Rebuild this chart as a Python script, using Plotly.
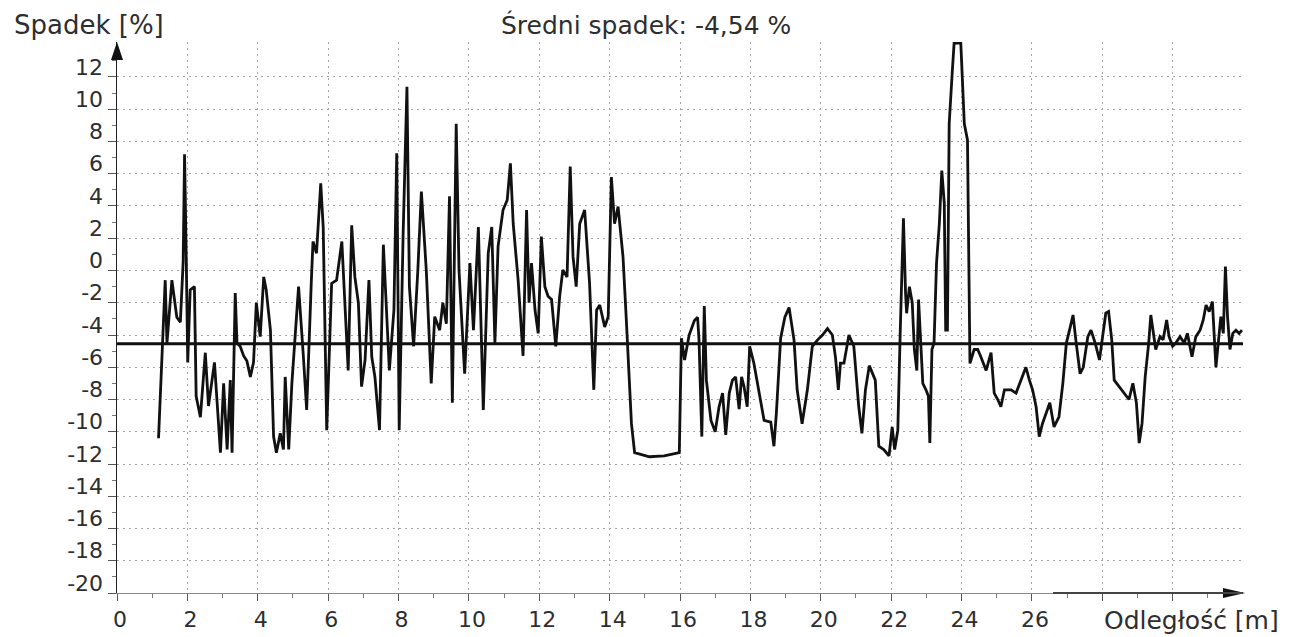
import plotly.graph_objects as go

# ---------------- data ----------------
mean_slope = -4.54
title_text = "Średni spadek: -4,54 %"
y_title = "Spadek [%]"
x_title = "Odległość [m]"

dist_a = [1.18, 1.37, 1.42, 1.56, 1.70, 1.80, 1.88, 1.92, 1.97, 2.01,
          2.08, 2.20, 2.25, 2.37, 2.51, 2.60, 2.77, 2.94, 3.03, 3.13,
          3.22, 3.27, 3.36, 3.41, 3.50, 3.60, 3.69, 3.79, 3.88, 3.96,
          4.07, 4.17, 4.24, 4.36, 4.45, 4.53, 4.64, 4.73, 4.78, 4.88,
          4.97, 5.07, 5.16]
slope_a = [-10.4, -0.6, -4.5, -0.6, -2.9, -3.2, 0.5, 7.2, 0.5, -5.7,
           -1.2, -1.0, -7.8, -9.1, -5.1, -8.4, -5.7, -11.3, -7.0, -11.1,
           -6.8, -11.3, -1.4, -4.5, -4.7, -5.3, -5.6, -6.6, -5.7, -2.0,
           -4.1, -0.4, -1.2, -3.7, -10.3, -11.3, -10.1, -11.1, -6.6, -11.1,
           -7.0, -3.7, -1.0]

dist_b = [5.29, 5.39, 5.52, 5.57, 5.67, 5.79, 5.86, 5.96, 6.10, 6.24,
          6.39, 6.48, 6.57, 6.67, 6.76, 6.86, 6.95, 7.05, 7.16, 7.24,
          7.33, 7.46, 7.57, 7.64, 7.74, 7.87, 7.95, 8.02, 8.13, 8.24,
          8.31, 8.43, 8.55, 8.65, 8.79, 8.93, 9.03, 9.17, 9.26, 9.36,
          9.45, 9.53, 9.64, 9.72, 9.88, 10.03, 10.13, 10.27, 10.41, 10.55,
          10.65]
slope_b = [-5.1, -8.65, -0.8, 1.8, 1.07, 5.4, 2.7, -9.9, -0.8, -0.6,
           1.8, -2.45, -6.2, 2.8, -0.4, -2.0, -7.2, -5.55, -0.6, -5.35,
           -6.6, -9.9, 1.6, -1.6, -6.2, -2.45, 7.27, -9.9, 2.1, 11.4,
           -1.0, -4.7, 0.03, 4.9, 0.0, -7.0, -2.86, -3.7, -2.0, -3.3,
           4.6, -8.2, 9.1, 0.0, -6.4, 0.46, -3.7, 2.7, -8.65, 1.07,
           2.7]

dist_c = [10.74, 10.83, 10.97, 11.09, 11.18, 11.26, 11.40, 11.54, 11.64, 11.71,
          11.78, 11.88, 11.97, 12.06, 12.16, 12.25, 12.35, 12.47, 12.58, 12.67,
          12.79, 12.88, 12.96, 13.05, 13.15, 13.29, 13.43, 13.55, 13.63, 13.72,
          13.86, 13.96, 14.05, 14.14, 14.24, 14.38, 14.47, 14.62, 14.71, 15.13,
          15.55, 15.98, 16.04]
slope_c = [-4.5, 1.5, 3.75, 4.37, 6.65, 2.9, -0.6, -5.3, 3.75, -2.0,
           0.46, -2.45, -3.9, 2.1, -1.0, -1.6, -1.8, -4.7, -1.6, 0.03,
           -0.4, 6.44, 0.86, -1.0, 2.9, 3.75, -0.8, -7.4, -2.45, -2.14,
           -3.5, -2.86, 5.8, 2.9, 3.96, 0.86, -2.86, -9.5, -11.3, -11.55,
           -11.5, -11.3, -4.2]

dist_d = [16.13, 16.26, 16.41, 16.50, 16.54, 16.62, 16.69, 16.75, 16.88, 17.00,
          17.11, 17.21, 17.30, 17.40, 17.49, 17.58, 17.68, 17.75, 17.82, 17.91,
          17.98, 18.10, 18.24, 18.39, 18.58, 18.67, 18.74, 18.86, 18.98, 19.10,
          19.24, 19.33, 19.47, 19.62, 19.76, 19.91, 20.05, 20.19, 20.33, 20.42,
          20.50, 20.56, 20.66, 20.80, 20.94, 21.08, 21.17, 21.27, 21.38, 21.55,
          21.65, 21.79, 21.94]
slope_d = [-5.55, -4.0, -3.1, -2.9, -4.3, -10.3, -2.2, -6.8, -9.3, -10.0,
           -8.45, -7.6, -10.2, -7.6, -6.8, -6.6, -8.6, -6.6, -7.2, -8.45,
           -4.7, -5.75, -7.6, -9.3, -9.4, -10.9, -8.8, -4.2, -2.9, -2.3,
           -4.3, -7.4, -9.5, -7.4, -4.7, -4.3, -4.0, -3.6, -4.0, -5.4,
           -7.4, -5.75, -5.75, -4.0, -4.7, -8.45, -10.1, -7.4, -5.9, -6.8,
           -10.9, -11.1, -11.5]

dist_e = [22.03, 22.10, 22.19, 22.26, 22.32, 22.35, 22.41, 22.44, 22.52, 22.60,
          22.66, 22.73, 22.78, 22.85, 22.90, 22.99, 23.06, 23.10, 23.16, 23.22,
          23.29, 23.37, 23.44, 23.51, 23.55, 23.60, 23.65, 23.74, 23.79, 23.98,
          24.08, 24.17, 24.20, 24.24, 24.36, 24.46, 24.55, 24.70, 24.84, 24.93,
          25.03, 25.12, 25.22, 25.41, 25.55, 25.69, 25.83, 25.93, 26.02, 26.12,
          26.21, 26.30, 26.40, 26.51, 26.63, 26.77, 26.88]
slope_e = [-9.7, -11.1, -9.9, -3.7, 0.46, 3.24, -1.4, -2.65, -1.0, -2.0,
           -4.9, -6.2, -1.8, -4.9, -7.0, -7.4, -7.8, -10.7, -4.9, -4.5,
           0.46, 2.9, 6.2, 4.2, -3.7, -3.7, 9.1, 12.4, 14.1, 14.1,
           9.1, 8.1, 0.46, -5.76, -4.9, -4.9, -5.35, -6.2, -5.1, -7.6,
           -8.0, -8.45, -7.4, -7.4, -7.6, -6.8, -6.0, -6.8, -7.4, -8.45,
           -10.3, -9.5, -8.86, -8.2, -9.7, -9.07, -7.0]

dist_f = [26.98, 27.07, 27.17, 27.26, 27.37, 27.46, 27.59, 27.68, 27.80, 27.92,
          28.01, 28.10, 28.18, 28.27, 28.34, 28.48, 28.62, 28.76, 28.87, 28.97,
          29.05, 29.13, 29.22, 29.32, 29.38, 29.45, 29.52, 29.64, 29.73, 29.83,
          29.90, 30.00, 30.09, 30.21, 30.33, 30.42, 30.55, 30.66, 30.78, 30.87,
          30.95, 31.04, 31.13, 31.23, 31.30, 31.37, 31.44, 31.50, 31.56, 31.63,
          31.71, 31.80, 31.89, 31.97]
slope_f = [-4.5, -3.7, -2.76, -4.5, -6.4, -6.0, -4.1, -3.7, -4.5, -5.55,
           -4.1, -2.65, -2.55, -4.3, -6.8, -7.2, -7.6, -8.0, -7.0, -8.2,
           -10.7, -9.5, -6.6, -4.5, -2.76, -3.9, -4.9, -4.1, -4.3, -3.07,
           -4.1, -4.7, -4.5, -4.1, -4.5, -3.9, -5.35, -4.1, -3.7, -3.07,
           -2.14, -2.55, -1.93, -6.0, -4.5, -2.86, -3.9, 0.24, -2.86, -4.9,
           -3.9, -3.7, -3.9, -3.7]

x_tick_vals = [0, 2, 4, 6, 8, 10, 12, 14, 16, 18, 20, 22, 24, 26, 28, 30]
x_tick_text = ["0", "2", "4", "6", "8", "10", "12", "14", "16", "18",
               "20", "22", "24", "26", "", ""]
y_tick_vals = [-20, -18, -16, -14, -12, -10, -8, -6, -4, -2, 0, 2, 4, 6, 8, 10, 12]
y_tick_text = ["-20", "-18", "-16", "-14", "-12", "-10", "-8", "-6", "-4", "-2",
               "0", "2", "4", "6", "8", "10", "12"]
x_range = [0, 32]
y_range = [-20, 14.17]

# ---------------- assemble ----------------
distance = dist_a + dist_b + dist_c + dist_d + dist_e + dist_f
slope = slope_a + slope_b + slope_c + slope_d + slope_e + slope_f
assert len(distance) == len(slope)

FONT = "DejaVu Sans"
TXT = "#2e2e2e"
GRID = "#a4a4a4"
GRID_DASH = "2px,4px"

fig = go.Figure()
fig.add_trace(go.Scatter(x=distance, y=slope, mode="lines",
                         line=dict(color="#111111", width=2.8),
                         hoverinfo="skip", showlegend=False))
fig.add_trace(go.Scatter(x=x_range, y=[mean_slope, mean_slope], mode="lines",
                         line=dict(color="#111111", width=3),
                         hoverinfo="skip", showlegend=False))

fig.update_layout(
    width=1296, height=637,
    margin=dict(l=117, r=53, t=42, b=44, pad=0, autoexpand=False),
    paper_bgcolor="white", plot_bgcolor="white",
    font=dict(family=FONT, color=TXT, size=22),
    showlegend=False,
)

fig.update_xaxes(
    range=x_range, tickmode="array", tickvals=x_tick_vals, ticktext=x_tick_text,
    showgrid=True, gridcolor=GRID, griddash=GRID_DASH, gridwidth=1,
    ticks="outside", ticklen=7, tickcolor="#555555", tickwidth=1,
    showline=True, linecolor="#8a8a8a", linewidth=1, zeroline=False,
    tickfont=dict(family=FONT, size=22, color=TXT), ticklabelshift=3,
    minor=dict(tickmode="array", tickvals=[v + 1 for v in x_tick_vals],
               ticks="outside", ticklen=4, tickcolor="#777777", showgrid=False),
    automargin=False, fixedrange=True,
)
fig.update_yaxes(
    range=y_range, tickmode="array", tickvals=y_tick_vals, ticktext=y_tick_text,
    showgrid=True, gridcolor=GRID, griddash=GRID_DASH, gridwidth=1,
    ticks="outside", ticklen=8, tickcolor="#555555", tickwidth=1,
    showline=True, linecolor="#222222", linewidth=1.5, zeroline=False,
    tickfont=dict(family=FONT, size=22, color=TXT), ticklabelshift=-10,
    minor=dict(tickmode="array", tickvals=[v + 1 for v in y_tick_vals],
               ticks="outside", ticklen=4, tickcolor="#777777", showgrid=False),
    automargin=False, fixedrange=True,
)

PW, PH = 1296 - 117 - 53, 637 - 42 - 44

# axis arrows (pixel-sized triangles anchored to the axis ends)
fig.add_shape(type="path", xref="paper", yref="paper",
              xsizemode="pixel", ysizemode="pixel", xanchor=0, yanchor=1,
              path="M -6,-18 L 0,0 L 6,-18 Z",
              fillcolor="#111111", line=dict(width=0))
fig.add_shape(type="path", xref="paper", yref="paper",
              xsizemode="pixel", ysizemode="pixel", xanchor=1 + 2 / PW, yanchor=0,
              path="M -22,5 L 0,0 L -22,-5 Z",
              fillcolor="#111111", line=dict(width=0))
fig.add_shape(type="line", xref="paper", yref="paper",
              x0=(1053 - 117) / PW, x1=1, y0=0, y1=0,
              line=dict(color="#444444", width=2))

fig.add_annotation(text=title_text, xref="paper", yref="paper",
                   x=(646 - 117) / PW, y=1 + 17 / PH, xanchor="center", yanchor="middle",
                   showarrow=False, font=dict(family=FONT, size=25, color=TXT))
fig.add_annotation(text=y_title, xref="paper", yref="paper",
                   x=(12 - 117) / PW, y=1 + 17 / PH, xanchor="left", yanchor="middle",
                   showarrow=False, font=dict(family=FONT, size=26, color=TXT))
fig.add_annotation(text=x_title, xref="paper", yref="paper",
                   x=(1102 - 117) / PW, y=-27 / PH, xanchor="left", yanchor="middle",
                   showarrow=False, font=dict(family=FONT, size=25, color=TXT))

fig.write_html("out.html", config={"displayModeBar": False, "staticPlot": True},
               post_script="document.body.style.margin='0';")
